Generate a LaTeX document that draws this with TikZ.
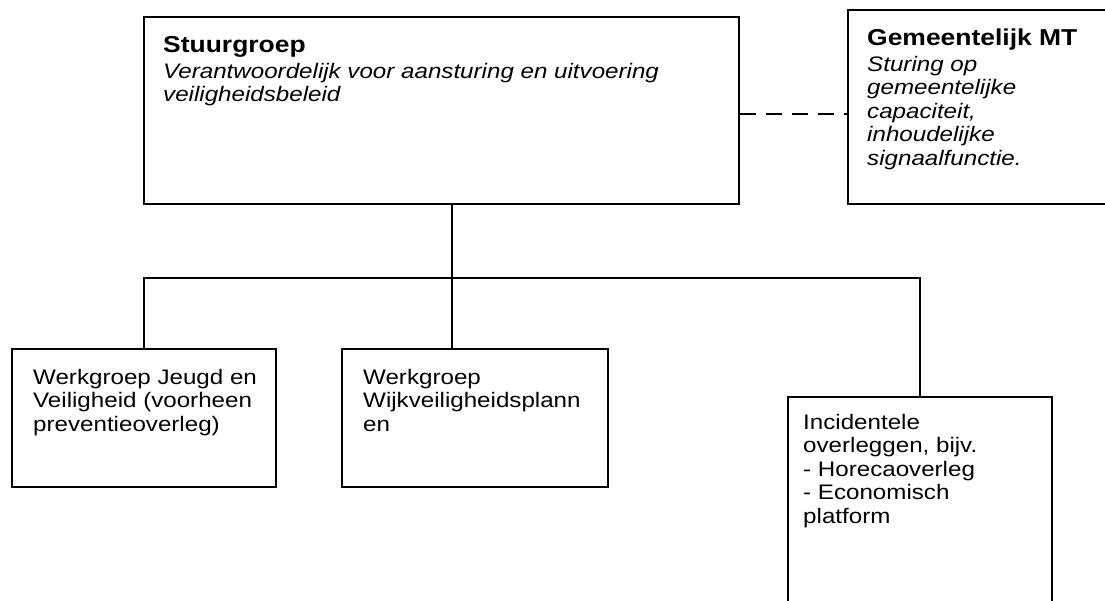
\documentclass[tikz,border=0pt]{standalone}
\usepackage{fontspec}
\setmainfont{Liberation Sans}[FakeStretch=1.15]
\begin{document}
\begin{tikzpicture}[x=1pt,y=-1pt,
  box/.style={draw=black, line width=1.8pt, inner sep=0pt, rectangle},
  conn/.style={draw=black, line width=1.2pt},
  dashconn/.style={draw=black, line width=2.6pt, dash pattern=on 16pt off 10pt},
  txt/.style={font=\fontsize{21}{23.5}\selectfont, align=left, inner sep=0pt, anchor=base west},
  ttl/.style={font=\fontsize{23}{24}\selectfont\bfseries}]
\useasboundingbox (0,0) rectangle (1105,601);
% boxes
\node[box, minimum width=595pt, minimum height=187pt] (stuur) at (441.5,110.5) {};
\node[box, minimum width=262pt, minimum height=194pt] (mt) at (979,107) {};
\node[box, minimum width=264pt, minimum height=138pt] (jeugd) at (144,418) {};
\node[box, minimum width=266pt, minimum height=138pt] (wijk) at (475,418) {};
\node[box, minimum width=264pt, minimum height=243pt] (inc) at (920,518.5) {};
% texts
\node[txt, ttl] (stuurttl) at (163,53) {Stuurgroep};
\node[txt, anchor=north west] (stuurtxt) at (163,63) {\itshape Verantwoordelijk voor aansturing en uitvoering\\\itshape veiligheidsbeleid};
\node[txt, ttl] (mtttl) at (867,46) {Gemeentelijk MT};
\node[txt, anchor=north west] (mttxt) at (867,56) {\itshape Sturing op\\\itshape gemeentelijke\\\itshape capaciteit,\\\itshape inhoudelijke\\\itshape signaalfunctie.};
\node[txt, anchor=north west] (jeugdtxt) at (33,369) {Werkgroep Jeugd en\\Veiligheid (voorheen\\preventieoverleg)};
\node[txt, anchor=north west] (wijktxt) at (363,369) {Werkgroep\\Wijkveiligheidsplann\\en};
\node[txt, anchor=north west] (inctxt) at (803,414) {Incidentele\\overleggen, bijv.\\- Horecaoverleg\\- Economisch\\platform};
% connectors
\coordinate (bus) at (452,278);
\draw[conn] (stuur.south -| bus) -- (bus);
\draw[conn] (jeugd.north) |- (bus);
\draw[conn] (bus) -| (inc.north);
\draw[conn] (bus) -- (wijk.north -| bus);
\draw[dashconn] (stuur.east |- 0,114) -- (mt.west |- 0,114);
\end{tikzpicture}
\end{document}
